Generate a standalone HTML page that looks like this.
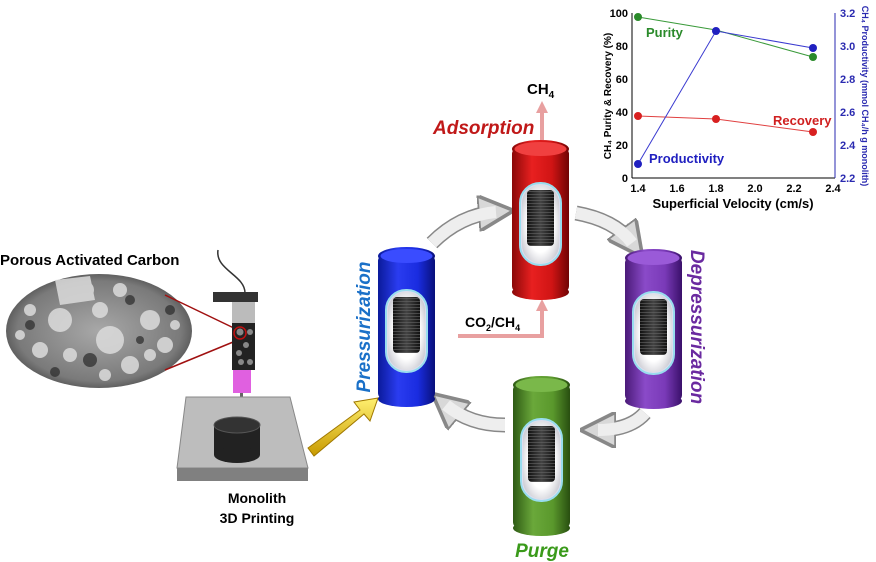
<!DOCTYPE html>
<html><head><meta charset="utf-8"><style>
body{margin:0;background:#fff;}
svg{display:block;font-family:"Liberation Sans",Arial,sans-serif;}
</style></head><body>
<svg width="876" height="562" viewBox="0 0 876 562" xmlns="http://www.w3.org/2000/svg">
<defs>
<linearGradient id="gb" x1="0" x2="1"><stop offset="0" stop-color="#0a1a9a"/><stop offset=".35" stop-color="#2a3cf0"/><stop offset=".7" stop-color="#1a2ce0"/><stop offset="1" stop-color="#08107a"/></linearGradient>
<linearGradient id="gr" x1="0" x2="1"><stop offset="0" stop-color="#8a0808"/><stop offset=".35" stop-color="#e82020"/><stop offset=".7" stop-color="#d01414"/><stop offset="1" stop-color="#700404"/></linearGradient>
<linearGradient id="gp" x1="0" x2="1"><stop offset="0" stop-color="#4a1a78"/><stop offset=".35" stop-color="#8a4ac8"/><stop offset=".7" stop-color="#7a3ab8"/><stop offset="1" stop-color="#3a106a"/></linearGradient>
<linearGradient id="gg" x1="0" x2="1"><stop offset="0" stop-color="#2e5a14"/><stop offset=".35" stop-color="#6aa83a"/><stop offset=".7" stop-color="#5a982c"/><stop offset="1" stop-color="#284e10"/></linearGradient>
<radialGradient id="win" cx=".5" cy=".5" r=".6"><stop offset=".6" stop-color="#fff"/><stop offset="1" stop-color="#c8c8d0"/></radialGradient>
<linearGradient id="mesh" x1="0" x2="1"><stop offset="0" stop-color="#111"/><stop offset=".5" stop-color="#444"/><stop offset="1" stop-color="#111"/></linearGradient>
<pattern id="mp" width="3" height="3" patternUnits="userSpaceOnUse"><path d="M0 .5H3" stroke="#666" stroke-width=".6"/></pattern>
<radialGradient id="sem" cx=".5" cy=".5" r=".55"><stop offset="0" stop-color="#a8a8a8"/><stop offset=".8" stop-color="#7a7a7a"/><stop offset="1" stop-color="#4a4a4a"/></radialGradient>
<linearGradient id="yel" x1="0" x2="0" y1="0" y2="1"><stop offset="0" stop-color="#fff070"/><stop offset="1" stop-color="#c89a00"/></linearGradient>
<marker id="ah" viewBox="0 0 10 10" refX="5" refY="5" markerWidth="2.4" markerHeight="2.4" orient="auto"><path d="M0 0L10 5L0 10z" fill="#d8d8d8" stroke="#888" stroke-width="1"/></marker>
<marker id="pk" viewBox="0 0 10 10" refX="5" refY="5" markerWidth="3" markerHeight="3" orient="auto"><path d="M0 0L10 5L0 10z" fill="#e8a0a0"/></marker>
<g id="cyl0"><rect x="0" y="8" width="57" height="144" rx="6"/><ellipse cx="28.5" cy="9" rx="28.5" ry="9"/><ellipse cx="28.5" cy="152" rx="28.5" ry="8"/></g>
<g id="wnd"><rect x="8" y="43" width="41" height="82" rx="20" fill="#dde" stroke="#9de" stroke-width="2"/><rect x="10" y="45" width="37" height="78" rx="18" fill="url(#win)"/><rect x="15" y="50" width="27" height="56" rx="4" fill="url(#mesh)"/><rect x="15" y="50" width="27" height="56" rx="4" fill="url(#mp)"/></g>
</defs>

<!-- chart -->
<g font-size="11" font-weight="bold" fill="#000">
<line x1="632" y1="13" x2="632" y2="178" stroke="#000"/>
<line x1="632" y1="178" x2="835" y2="178" stroke="#000"/>
<line x1="835" y1="13" x2="835" y2="178" stroke="#2a2ab0"/>
<g text-anchor="end">
<text x="628" y="17">100</text><text x="628" y="50">80</text><text x="628" y="83">60</text><text x="628" y="116">40</text><text x="628" y="149">20</text><text x="628" y="182">0</text></g>
<g fill="#2a2ab0"><text x="840" y="17">3.2</text><text x="840" y="50">3.0</text><text x="840" y="83">2.8</text><text x="840" y="116">2.6</text><text x="840" y="149">2.4</text><text x="840" y="182">2.2</text></g>
<g text-anchor="middle"><text x="638" y="192">1.4</text><text x="677" y="192">1.6</text><text x="716" y="192">1.8</text><text x="755" y="192">2.0</text><text x="794" y="192">2.2</text><text x="833" y="192">2.4</text></g>
<text x="733" y="208" text-anchor="middle" font-size="13">Superficial Velocity (cm/s)</text>
<text transform="translate(611,96) rotate(-90)" text-anchor="middle" font-size="10">CH₄ Purity &amp; Recovery (%)</text>
<text transform="translate(862,96) rotate(90)" text-anchor="middle" font-size="9" fill="#2a2ab0">CH₄ Productivity (mmol CH₄/h g monolith)</text>
<polyline points="638,17 716,30 813,57" fill="none" stroke="#3a9a3a"/>
<polyline points="638,116 716,119 813,132" fill="none" stroke="#e04040"/>
<polyline points="638,164 716,31 813,48" fill="none" stroke="#3a3ad0"/>
<g fill="#2a8a2a"><circle cx="638" cy="17" r="4"/><circle cx="813" cy="57" r="4"/></g>
<g fill="#d82020"><circle cx="638" cy="116" r="4"/><circle cx="716" cy="119" r="4"/><circle cx="813" cy="132" r="4"/></g>
<g fill="#2020c0"><circle cx="638" cy="164" r="4"/><circle cx="716" cy="31" r="4"/><circle cx="813" cy="48" r="4"/></g>
<text x="646" y="37" fill="#2a8a2a" font-size="13">Purity</text>
<text x="773" y="125" fill="#d02020" font-size="13">Recovery</text>
<text x="649" y="163" fill="#2020c0" font-size="13">Productivity</text>
</g>

<!-- left -->
<text x="0" y="265" font-size="15" font-weight="bold">Porous Activated Carbon</text>
<ellipse cx="99" cy="331" rx="93" ry="57" fill="url(#sem)"/>
<g fill="#dcdcdc" opacity=".85">
<circle cx="60" cy="320" r="12"/><circle cx="110" cy="340" r="14"/><circle cx="150" cy="320" r="10"/><circle cx="85" cy="290" r="9"/><circle cx="130" cy="365" r="9"/><circle cx="40" cy="350" r="8"/><polygon points="55,280 90,276 95,300 60,305"/><circle cx="165" cy="345" r="8"/>
<circle cx="100" cy="310" r="8"/><circle cx="30" cy="310" r="6"/><circle cx="70" cy="355" r="7"/><circle cx="150" cy="355" r="6"/><circle cx="120" cy="290" r="7"/><circle cx="175" cy="325" r="5"/><circle cx="20" cy="335" r="5"/><circle cx="105" cy="375" r="6"/></g>
<g fill="#2a2a2a" opacity=".7"><circle cx="90" cy="360" r="7"/><circle cx="130" cy="300" r="5"/><circle cx="30" cy="325" r="5"/><circle cx="170" cy="310" r="5"/><circle cx="55" cy="372" r="5"/><circle cx="140" cy="340" r="4"/></g>
<line x1="165" y1="295" x2="238" y2="330" stroke="#a01010" stroke-width="1.5"/>
<line x1="165" y1="370" x2="238" y2="340" stroke="#a01010" stroke-width="1.5"/>
<path d="M218 250 C215 270 245 275 245 293" fill="none" stroke="#333" stroke-width="1.5"/>
<rect x="213" y="292" width="45" height="10" fill="#333"/>
<rect x="232" y="302" width="23" height="22" fill="#bbb"/>
<rect x="232" y="323" width="23" height="47" fill="#222"/>
<g fill="#888"><circle cx="240" cy="332" r="3.5"/><circle cx="250" cy="332" r="3"/><circle cx="246" cy="345" r="3"/><circle cx="239" cy="353" r="3"/><circle cx="241" cy="362" r="3"/><circle cx="250" cy="362" r="3"/></g>
<circle cx="240" cy="333" r="6" fill="none" stroke="#c01010" stroke-width="1.5"/>
<rect x="233" y="370" width="18" height="23" fill="#e060e0"/>
<rect x="240" y="393" width="3" height="20" fill="#666"/>
<path d="M186 397 H290 L308 468 H177 Z" fill="#bdbdbd" stroke="#888"/>
<path d="M177 468 H308 V481 H177 Z" fill="#808080"/>
<rect x="214" y="425" width="46" height="30" fill="#222"/>
<ellipse cx="237" cy="455" rx="23" ry="8" fill="#222"/>
<ellipse cx="237" cy="425" rx="23" ry="8" fill="#333" stroke="#555"/>
<text x="257" y="503" text-anchor="middle" font-size="14" font-weight="bold">Monolith</text>
<text x="257" y="523" text-anchor="middle" font-size="14" font-weight="bold">3D Printing</text>
<path d="M308 448 L360 410 L354 402 L378 398 L370 421 L364 414 L314 456 Z" fill="url(#yel)" stroke="#a07800"/>

<!-- gray cycle arrows -->
<g fill="none">
<path d="M432 243 Q460 215 496 212" stroke="#888" stroke-width="15" marker-end="url(#ah)"/>
<path d="M432 243 Q460 215 496 212" stroke="#eee" stroke-width="12"/>
<path d="M576 213 Q615 220 632 243" stroke="#888" stroke-width="15" marker-end="url(#ah)"/>
<path d="M576 213 Q615 220 632 243" stroke="#eee" stroke-width="12"/>
<path d="M645 413 Q630 430 598 430" stroke="#888" stroke-width="15" marker-end="url(#ah)"/>
<path d="M645 413 Q630 430 598 430" stroke="#eee" stroke-width="12"/>
<path d="M505 425 Q470 425 446 405" stroke="#888" stroke-width="15" marker-end="url(#ah)"/>
<path d="M505 425 Q470 425 446 405" stroke="#eee" stroke-width="12"/>
</g>

<!-- pink flow -->
<path d="M458 336 H542 V305" fill="none" stroke="#e8a0a0" stroke-width="4" marker-end="url(#pk)"/>
<path d="M542 140 V107" fill="none" stroke="#e8a0a0" stroke-width="4" marker-end="url(#pk)"/>

<!-- cylinders -->
<g transform="translate(378,247)" fill="url(#gb)"><use href="#cyl0"/><ellipse cx="28.5" cy="9" rx="26" ry="7" fill="#3a4cff"/><use href="#wnd"/></g>
<g transform="translate(512,140)" fill="url(#gr)"><use href="#cyl0"/><ellipse cx="28.5" cy="9" rx="26" ry="7" fill="#f04040"/><use href="#wnd"/></g>
<g transform="translate(625,249)" fill="url(#gp)"><use href="#cyl0"/><ellipse cx="28.5" cy="9" rx="26" ry="7" fill="#9a5ad8"/><use href="#wnd"/></g>
<g transform="translate(513,376)" fill="url(#gg)"><use href="#cyl0"/><ellipse cx="28.5" cy="9" rx="26" ry="7" fill="#7ab84a"/><use href="#wnd"/></g>

<!-- labels -->
<text x="433" y="134" font-size="19" font-weight="bold" font-style="italic" fill="#c01818">Adsorption</text>
<text x="527" y="94" font-size="15" font-weight="bold">CH<tspan font-size="10" dy="4">4</tspan></text>
<text x="465" y="327" font-size="14" font-weight="bold">CO<tspan font-size="9" dy="4">2</tspan><tspan dy="-4">/CH</tspan><tspan font-size="9" dy="4">4</tspan></text>
<text transform="translate(370,327) rotate(-90)" text-anchor="middle" font-size="19" font-weight="bold" font-style="italic" fill="#1a70c8">Pressurization</text>
<text transform="translate(691,327) rotate(90)" text-anchor="middle" font-size="19" font-weight="bold" font-style="italic" fill="#6a2aa0">Depressurization</text>
<text x="542" y="557" text-anchor="middle" font-size="19" font-weight="bold" font-style="italic" fill="#3a9a1a">Purge</text>
</svg>
</body></html>
